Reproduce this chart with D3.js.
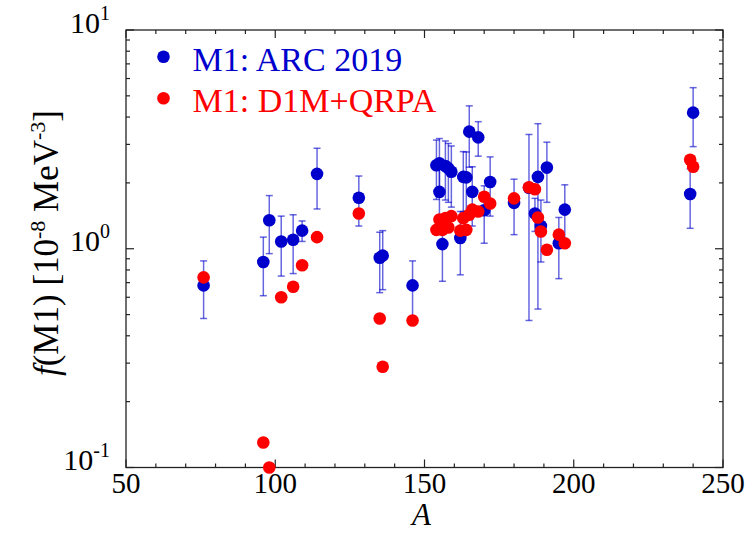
<!DOCTYPE html>
<html lang="en">
<head>
<meta charset="UTF-8">
<title>f(M1)</title>
<script src="https://d3js.org/d3.v7.min.js"></script>
<style>
  body { margin: 0; background: #fff; }
</style>
</head>
<body>
<div id="chart"></div>
<script>
// ARC 2019 data: mass number, f(M1), symmetric error
const arcA   = [76, 96, 98, 102, 106, 109, 114, 128, 135, 136, 146, 154, 155, 155, 156, 157, 158, 159,
                162, 163, 164, 165, 166, 168, 170, 172, 180, 185, 187, 188, 189, 191, 195, 197, 239, 240];
const arcF   = [0.68, 0.87, 1.35, 1.08, 1.10, 1.21, 2.20, 1.71, 0.91, 0.93, 0.68, 2.41, 2.46, 1.82, 1.05, 2.39, 2.33, 2.25,
                1.12, 2.13, 2.12, 3.43, 1.82, 3.23, 1.50, 2.02, 1.62, 1.90, 1.45, 2.13, 1.27, 2.35, 1.06, 1.51, 1.78, 4.19];
const arcErr = [0.20, 0.26, 0.40, 0.33, 0.33, 0.13, 0.68, 0.44, 0.28, 0.28, 0.20, 0.73, 0.73, 0.55, 0.34, 0.72, 0.70, 0.70,
                0.36, 0.65, 0.65, 1.07, 0.55, 0.58, 0.44, 0.61, 0.46, 1.43, 0.25, 1.60, 0.40, 0.72, 0.33, 0.45, 0.54, 1.26];

// D1M+QRPA values
const qrpaA = [76, 96, 98, 102, 106, 109, 114, 128, 135, 136, 146, 154, 155, 156, 157, 158, 159, 162, 163,
               164, 165, 166, 168, 170, 172, 180, 185, 187, 188, 189, 191, 195, 197, 239, 240];
const qrpaF = [0.74, 0.13, 0.10, 0.60, 0.67, 0.84, 1.13, 1.45, 0.48, 0.289, 0.47, 1.22, 1.36, 1.22, 1.38, 1.25, 1.41, 1.21, 1.38,
               1.22, 1.43, 1.51, 1.48, 1.73, 1.61, 1.70, 1.91, 1.87, 1.39, 1.20, 0.99, 1.16, 1.06, 2.55, 2.37];

const xMajor = [50, 100, 150, 200, 250];
const yMajor = [0.1, 1, 10];
const yExp = ["-1", "0", "1"];
const legendLabels = ["M1: ARC 2019", "M1: D1M+QRPA"];
const colors = ["#0000cc", "#ff0000"];

const W = 746, H = 533;
const margin = { top: 30, right: 23, bottom: 65.5, left: 126 };
const width = W - margin.left - margin.right,
      height = H - margin.top - margin.bottom;

const svg = d3.select("#chart").append("svg")
    .attr("width", W).attr("height", H)
    .attr("font-family", "Liberation Serif, Times New Roman, Times, serif");
const g = svg.append("g")
    .attr("transform", "translate(" + margin.left + "," + margin.top + ")");

const x = d3.scaleLinear().domain([50, 250]).range([0, width]);
const y = d3.scaleLog().domain([0.1, 10]).range([height, 0]);

const axisColor = "#222";

// frame
g.append("rect")
    .attr("width", width).attr("height", height)
    .attr("fill", "none").attr("stroke", axisColor).attr("stroke-width", 1.3);

// x ticks, inside on bottom and top
const xMinor = d3.range(50, 251, 10);
xMinor.forEach(function (v) {
    const len = v % 50 === 0 ? 8 : 4;
    g.append("line").attr("x1", x(v)).attr("x2", x(v)).attr("y1", height).attr("y2", height - len)
        .attr("stroke", axisColor).attr("stroke-width", 1.2);
    g.append("line").attr("x1", x(v)).attr("x2", x(v)).attr("y1", 0).attr("y2", len)
        .attr("stroke", axisColor).attr("stroke-width", 1.2);
});

// y ticks, inside on left and right
const yTicks = [];
[0.1, 1].forEach(function (d) { for (let k = 1; k <= 9; k++) yTicks.push(d * k); });
yTicks.push(10);
yTicks.forEach(function (v) {
    const major = yMajor.some(function (m) { return Math.abs(m - v) < 1e-9; });
    const len = major ? 8 : 4;
    g.append("line").attr("x1", 0).attr("x2", len).attr("y1", y(v)).attr("y2", y(v))
        .attr("stroke", axisColor).attr("stroke-width", 1.2);
    g.append("line").attr("x1", width).attr("x2", width - len).attr("y1", y(v)).attr("y2", y(v))
        .attr("stroke", axisColor).attr("stroke-width", 1.2);
});

// x tick labels
xMajor.forEach(function (v) {
    g.append("text").attr("x", x(v)).attr("y", height + 25)
        .attr("text-anchor", "middle").style("font-size", "29px").text(v);
});

// y tick labels 10^n
yMajor.forEach(function (v, i) {
    const t = g.append("text").attr("x", -16).attr("y", y(v) + 2.5)
        .attr("text-anchor", "end").style("font-size", "30px");
    t.append("tspan").text("10");
    t.append("tspan").attr("dy", -13).style("font-size", "20px").text(yExp[i]);
});

// axis titles
g.append("text").attr("x", width / 2 - 3).attr("y", height + 57)
    .attr("text-anchor", "middle").style("font-size", "31px").style("font-style", "italic").text("A");

const yl = svg.append("text")
    .attr("transform", "translate(58," + 243 + ") rotate(-90)")
    .attr("text-anchor", "middle").style("font-size", "35px");
yl.append("tspan").style("font-style", "italic").text("f");
yl.append("tspan").text("(M1) [10");
yl.append("tspan").attr("dy", -13).style("font-size", "22px").text("-8");
yl.append("tspan").attr("dy", 13).text(" MeV");
yl.append("tspan").attr("dy", -13).style("font-size", "22px").text("-3");
yl.append("tspan").attr("dy", 13).text("]");

// error bars for ARC 2019
const arc = arcA.map(function (a, i) { return { a: a, f: arcF[i], e: arcErr[i] }; });
const eb = g.append("g").attr("stroke", colors[0]).attr("stroke-opacity", 0.6).attr("stroke-width", 1.5);
arc.forEach(function (d) {
    const lo = y(d.f - d.e), hi = y(d.f + d.e), cx = x(d.a);
    eb.append("line").attr("x1", cx).attr("x2", cx).attr("y1", lo).attr("y2", hi);
    eb.append("line").attr("x1", cx - 3.5).attr("x2", cx + 3.5).attr("y1", lo).attr("y2", lo);
    eb.append("line").attr("x1", cx - 3.5).attr("x2", cx + 3.5).attr("y1", hi).attr("y2", hi);
});

g.selectAll(".arc").data(arc).enter().append("circle")
    .attr("class", "arc")
    .attr("cx", function (d) { return x(d.a); })
    .attr("cy", function (d) { return y(d.f); })
    .attr("r", 6.3).attr("fill", colors[0]);

const qrpa = qrpaA.map(function (a, i) { return { a: a, f: qrpaF[i] }; });
g.selectAll(".qrpa").data(qrpa).enter().append("circle")
    .attr("class", "qrpa")
    .attr("cx", function (d) { return x(d.a); })
    .attr("cy", function (d) { return y(d.f); })
    .attr("r", 6.3).attr("fill", colors[1]);

// legend
legendLabels.forEach(function (lab, i) {
    const ly = 26.7 + i * 41.6;
    g.append("circle").attr("cx", 37.5).attr("cy", ly).attr("r", 6.3).attr("fill", colors[i]);
    g.append("text").attr("x", 66.5).attr("y", ly + 14)
        .style("font-size", "34px").attr("fill", colors[i]).text(lab);
});
</script>
</body>
</html>
